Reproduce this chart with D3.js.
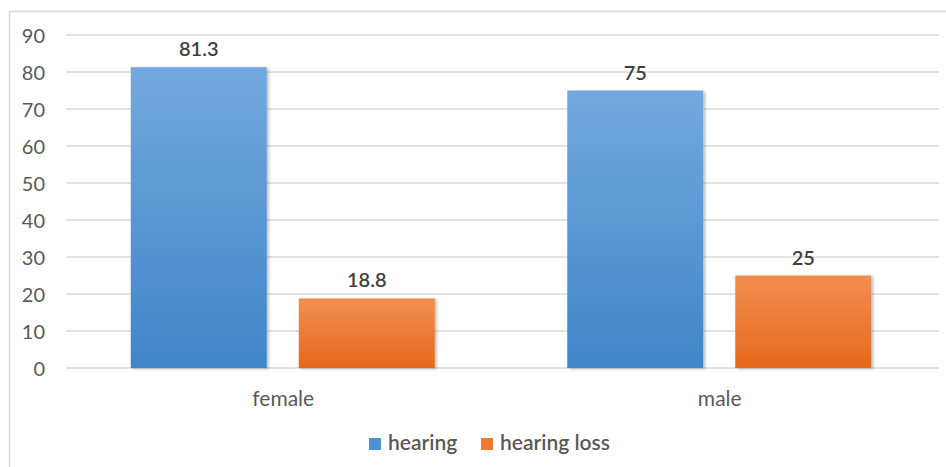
<!DOCTYPE html>
<html>
<head>
<meta charset="utf-8">
<script src="https://cdn.jsdelivr.net/npm/d3@7/dist/d3.min.js"></script>
<style>
  html, body { margin: 0; padding: 0; background: #fff; }
  svg { display: block; font-family: Lato, "Open Sans", sans-serif; }
</style>
</head>
<body>
<svg id="chart" width="946" height="467"></svg>
<script>
// Chart data
const categories = ["female", "male"];
const seriesNames = ["hearing", "hearing loss"];
const hearing = [81.3, 75];
const hearingLoss = [18.8, 25];
const yTicks = [0, 10, 20, 30, 40, 50, 60, 70, 80, 90];

const seriesValues = [hearing, hearingLoss];
const svg = d3.select("#chart");
const W = 946, H = 467;
const margin = { left: 66, right: 7, top: 35, bottom: 99 };
const textColor = "#595959";

// Outer chart frame
svg.append("rect")
  .attr("x", 9.5).attr("y", 11.5)
  .attr("width", 960).attr("height", 480)
  .attr("fill", "#fff").attr("stroke", "#d9d9d9").attr("stroke-width", 1.5);

const defs = svg.append("defs");
const gradStops = [
  ["grad-hearing", "#73a8de", "#3f86c9"],
  ["grad-loss", "#f28e52", "#e5691a"]
];
gradStops.forEach(([id, top, bottom]) => {
  const g = defs.append("linearGradient").attr("id", id)
    .attr("x1", 0).attr("y1", 0).attr("x2", 0).attr("y2", 1);
  g.append("stop").attr("offset", "0%").attr("stop-color", top);
  g.append("stop").attr("offset", "100%").attr("stop-color", bottom);
});
const shadow = defs.append("filter").attr("id", "barShadow")
  .attr("x", "-10%").attr("y", "-10%").attr("width", "130%").attr("height", "130%");
shadow.append("feDropShadow").attr("dx", 2).attr("dy", 1).attr("stdDeviation", 1.5)
  .attr("flood-color", "#000").attr("flood-opacity", 0.25);

const x0 = d3.scaleBand().domain(categories)
  .range([margin.left, W - margin.right]).paddingInner(0).paddingOuter(0);
const y = d3.scaleLinear().domain([0, 90]).range([368, 35]);

// Gridlines
svg.append("g").selectAll("line").data(yTicks).join("line")
  .attr("x1", margin.left).attr("x2", W - margin.right)
  .attr("y1", d => y(d)).attr("y2", d => y(d))
  .attr("stroke", "#d9d9d9").attr("stroke-width", 1.5);

// Y axis labels
const yAxis = d3.axisLeft(y).tickValues(yTicks).tickSize(0).tickPadding(0);
const yg = svg.append("g").attr("transform", "translate(45,0)").call(yAxis);
yg.select(".domain").remove();
yg.selectAll("text").attr("fill", textColor).attr("font-size", 20)
  .attr("font-family", "Lato, 'Open Sans', sans-serif").attr("dy", "0.35em");

// Bars within each category group
const barW = 136, gap = 32;
const barX = (ci, si) => x0(categories[ci]) + x0.bandwidth() / 2 - (barW * 2 + gap) / 2 + si * (barW + gap) - 1.5;

const gradIds = ["grad-hearing", "grad-loss"];
seriesValues.forEach((vals, si) => {
  const g = svg.append("g");
  g.selectAll("rect").data(vals).join("rect")
    .attr("x", (d, ci) => barX(ci, si))
    .attr("y", d => y(d))
    .attr("width", barW)
    .attr("height", d => y(0) - y(d))
    .attr("fill", `url(#${gradIds[si]})`)
    .attr("filter", "url(#barShadow)");
  g.selectAll("text").data(vals).join("text")
    .attr("x", (d, ci) => barX(ci, si) + barW / 2)
    .attr("y", d => y(d) - 11)
    .attr("text-anchor", "middle")
    .attr("fill", "#404040")
    .attr("font-size", 20)
    .attr("font-weight", 600)
    .text(d => d);
});

// Category axis labels
svg.append("g").selectAll("text").data(categories).join("text")
  .attr("x", d => x0(d) + x0.bandwidth() / 2 - 1)
  .attr("y", 406)
  .attr("text-anchor", "middle")
  .attr("fill", textColor)
  .attr("font-size", 21)
  .text(d => d);

// Legend
const legendColors = ["#4f92d3", "#ee7a30"];
const legendX = [369, 481];
const lg = svg.append("g");
seriesNames.forEach((name, i) => {
  lg.append("rect").attr("x", legendX[i]).attr("y", 438)
    .attr("width", 12).attr("height", 12).attr("fill", legendColors[i]);
  lg.append("text").attr("x", legendX[i] + 19).attr("y", 450)
    .attr("fill", textColor).attr("font-size", 21).attr("font-weight", 600)
    .text(name);
});
</script>
</body>
</html>
